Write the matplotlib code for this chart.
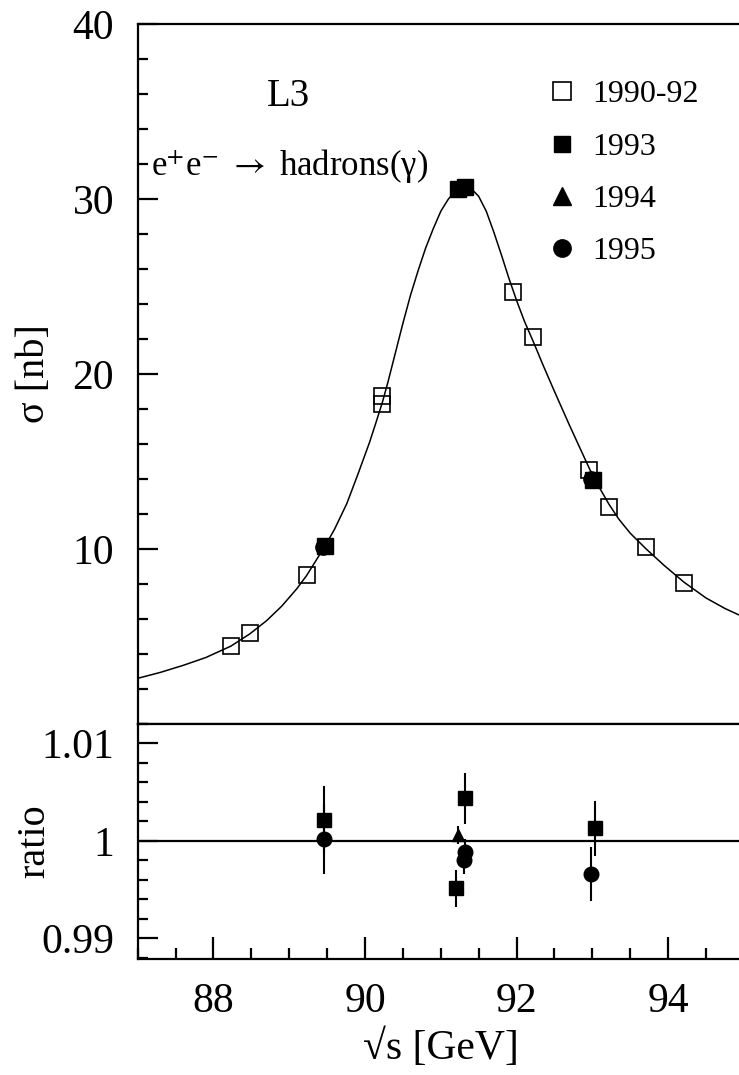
import matplotlib
matplotlib.use("Agg")
import matplotlib.pyplot as plt
from matplotlib.ticker import MultipleLocator, FixedLocator, FixedFormatter
from matplotlib.lines import Line2D

plt.rcParams['font.family'] = ['Liberation Serif', 'DejaVu Serif']
plt.rcParams['mathtext.fontset'] = 'stix'

# ---- hadronic cross section measurements (sqrt(s) in GeV, sigma in nb) ----
x_9092 = [88.23, 88.48, 89.23, 90.23, 90.23, 91.955, 92.22, 92.958, 93.22, 93.706, 94.21]
y_9092 = [4.46, 5.22, 8.53, 18.75, 18.27, 24.71, 22.09, 14.54, 12.41, 10.11, 8.05]

x_93 = [89.47, 91.23, 91.32, 93.01]
y_93 = [10.15, 30.59, 30.69, 13.97]

x_94 = [91.23]
y_94 = [30.6]

x_95 = [89.45, 91.30, 92.98]
y_95 = [10.1, 30.65, 14.0]

# fitted line shape
curve_x = [87.0, 87.3, 87.6, 87.9, 88.23, 88.48, 88.7, 88.9, 89.1, 89.23,
           89.47, 89.6, 89.76, 89.9, 90.06, 90.15, 90.23, 90.3, 90.4, 90.5,
           90.6, 90.7, 90.8, 90.9, 91.0, 91.1, 91.2, 91.3, 91.4, 91.5,
           91.6, 91.7, 91.8, 91.9, 92.0, 92.1, 92.22, 92.35, 92.5, 92.7,
           92.96, 93.1, 93.22, 93.35, 93.5, 93.71, 93.95, 94.21, 94.5, 94.75,
           95.0]
curve_y = [2.61, 2.95, 3.35, 3.8, 4.45, 5.15, 5.9, 6.73, 7.73, 8.49,
           10.15, 11.15, 12.6, 14.2, 16.1, 17.3, 18.4, 19.5, 21.2, 22.9,
           24.5, 25.9, 27.2, 28.3, 29.3, 30.0, 30.5, 30.7, 30.6, 30.15,
           29.3, 28.1, 26.8, 25.45, 24.2, 23.05, 21.85, 20.5, 19.0, 17.05,
           14.6, 13.45, 12.55, 11.7, 10.9, 10.0, 9.05, 8.1, 7.2, 6.6,
           6.1]

# ---- ratio data / fit ----
r_x_93 = [89.458, 91.20, 91.318, 93.033]
r_y_93 = [1.0021, 0.9951, 1.00436, 1.00128]
r_e_93 = [0.0035, 0.0019, 0.0026, 0.0028]

r_x_94 = [91.23]
r_y_94 = [1.0006]
r_e_94 = [0.0009]

r_x_95 = [89.458, 91.32, 91.30, 92.98]
r_y_95 = [1.0002, 0.99887, 0.99801, 0.99657]
r_e_95 = [0.0036, 0.0013, 0.0014, 0.0028]

legend_labels = ['1990-92', '1993', '1994', '1995']
energy_ticks = [88, 90, 92, 94]
sigma_ticks = [10, 20, 30, 40]
ratio_ticks = [0.99, 1.0, 1.01]
ratio_tick_labels = ['0.99', '1', '1.01']

fig = plt.figure(figsize=(7.39, 10.75), dpi=100)
ax_top = fig.add_axes([0.1863, 0.32651, 0.8204, 0.65116])
ax_bot = fig.add_axes([0.1863, 0.10837, 0.8204, 0.21814])

lw_spine = 1.6
for ax in (ax_top, ax_bot):
    for sp in ax.spines.values():
        sp.set_linewidth(lw_spine)
    ax.set_xlim(87, 95)

# ---- upper panel ----
ax_top.plot(curve_x, curve_y, color='black', lw=1.1, zorder=2)
ms = 11.0
mew = 1.2
ax_top.plot(x_95, y_95, 'o', color='black', ms=ms, zorder=3)
ax_top.plot(x_94, y_94, '^', color='black', ms=ms * 0.9, zorder=3)
ax_top.plot(x_9092, y_9092, 's', mfc='none', mec='black', mew=mew, ms=ms, zorder=4)
ax_top.plot(x_93, y_93, 's', color='black', ms=ms, zorder=5)

ax_top.set_ylim(0, 40)
ax_top.yaxis.set_major_locator(FixedLocator(sigma_ticks))
ax_top.yaxis.set_minor_locator(MultipleLocator(2))
ax_top.tick_params(axis='y', which='major', direction='in', length=14.5, width=lw_spine,
                   labelsize=30, pad=17, right=False)
ax_top.tick_params(axis='y', which='minor', direction='in', length=7.2, width=lw_spine, right=False)
ax_top.tick_params(axis='x', which='both', bottom=False, top=False, labelbottom=False)
ax_top.set_ylabel('σ [nb]', fontsize=29)
ax_top.yaxis.set_label_coords(-0.14, 0.5)

ax_top.text(88.706, 35.29, 'L3', fontsize=28, va='baseline', ha='left')
ax_top.text(87.18, 31.33, r'e$^{+}$e$^{-}$ $\rightarrow$ hadrons(γ)', fontsize=25,
            va='baseline', ha='left')

lms = 12.5
handles = [
    Line2D([], [], ls='none', marker='s', mfc='none', mec='black', mew=mew, ms=lms),
    Line2D([], [], ls='none', marker='s', color='black', ms=lms * 0.92),
    Line2D([], [], ls='none', marker='^', color='black', ms=lms),
    Line2D([], [], ls='none', marker='o', color='black', ms=lms),
]
ax_top.legend(handles, legend_labels, loc='upper left',
              bbox_to_anchor=(546 / 739, 1 - 80 / 1075), bbox_transform=fig.transFigure,
              frameon=False, fontsize=23, handlelength=1.0, handletextpad=0.45,
              labelspacing=0.72, borderpad=0, borderaxespad=0)

# ---- lower panel ----
ax_bot.axhline(1.0, color='black', lw=1.6, zorder=1)
eb_kw = dict(ls='none', ecolor='black', elinewidth=1.5, capsize=0, color='black')
ax_bot.errorbar(r_x_95, r_y_95, yerr=r_e_95, fmt='o', ms=10.5, zorder=3, **eb_kw)
ax_bot.errorbar(r_x_94, r_y_94, yerr=r_e_94, fmt='^', ms=9, zorder=3, **eb_kw)
ax_bot.errorbar(r_x_93, r_y_93, yerr=r_e_93, fmt='s', ms=10.5, zorder=4, **eb_kw)

ax_bot.set_ylim(0.9879, 1.012)
ax_bot.yaxis.set_major_locator(FixedLocator(ratio_ticks))
ax_bot.yaxis.set_major_formatter(FixedFormatter(ratio_tick_labels))
ax_bot.yaxis.set_minor_locator(MultipleLocator(0.002))
ax_bot.xaxis.set_major_locator(FixedLocator(energy_ticks))
ax_bot.xaxis.set_minor_locator(MultipleLocator(0.5))
ax_bot.tick_params(axis='y', which='major', direction='in', length=14.5, width=lw_spine,
                   labelsize=30, pad=17, right=False)
ax_bot.tick_params(axis='y', which='minor', direction='in', length=7.2, width=lw_spine, right=False)
ax_bot.tick_params(axis='x', which='major', direction='in', length=16, width=lw_spine,
                   labelsize=30, pad=17, top=False)
ax_bot.tick_params(axis='x', which='minor', direction='in', length=8, width=lw_spine, top=False)
ax_bot.set_ylabel('ratio', fontsize=29)
ax_bot.yaxis.set_label_coords(-0.14, 0.5)
ax_bot.set_xlabel('√s [GeV]', fontsize=30)
ax_bot.xaxis.set_label_coords(0.5, -0.30)

fig.savefig('out.png', dpi=100)
